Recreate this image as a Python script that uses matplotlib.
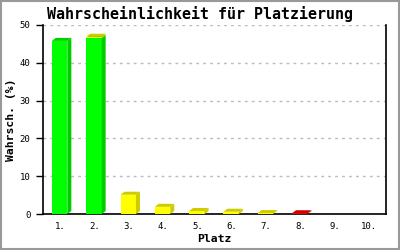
import matplotlib
matplotlib.use("Agg")
import matplotlib.pyplot as plt
from matplotlib.patches import Polygon, Rectangle

# Platzierungen und Wahrscheinlichkeiten (%) je Farbe (gestapelt)
places = ["1.", "2.", "3.", "4.", "5.", "6.", "7.", "8.", "9.", "10."]
green = [45.8, 46.5, 0, 0, 0, 0, 0, 0, 0, 0]
yellow = [0, 0.4, 5.1, 1.9, 0.8, 0.6, 0.25, 0, 0, 0]
red = [0, 0, 0, 0, 0, 0, 0, 0.2, 0, 0]

series = [
    (green, "#00ff00", "#00cc00"),
    (yellow, "#ffff00", "#cccc00"),
    (red, "#ff0000", "#cc0000"),
]

mono = "DejaVu Sans Mono"

fig = plt.figure(figsize=(4, 2.5), dpi=100)
ax = fig.add_axes([0.1075, 0.144, 0.8575, 0.756])

x = list(range(1, len(places) + 1))
ax.set_xlim(0.5, len(places) + 0.5)
ax.set_ylim(0, 50)

# 3D-Tiefe in Datenkoordinaten (4px nach rechts, 3px nach oben)
ax_w = 0.8575 * 400
ax_h = 0.756 * 250
dx = 4 * len(places) / ax_w
dy = 3 * 50 / ax_h

width = 0.45
bottoms = [0.0] * len(places)
for values, front, dark in series:
    for i, h in enumerate(values):
        if h <= 0:
            continue
        b = bottoms[i]
        x0 = x[i] - 0.015 - width / 2
        x1 = x0 + width
        ax.bar(x0, h, width=width, bottom=b, align="edge", color=front,
               linewidth=0, zorder=3)
        side = [(x1, b), (x1 + dx, b + dy), (x1 + dx, b + h + dy), (x1, b + h)]
        top = [(x0, b + h), (x0 + dx, b + h + dy), (x1 + dx, b + h + dy), (x1, b + h)]
        ax.add_patch(Polygon(side, closed=True, color=dark, lw=0, zorder=3))
        ax.add_patch(Polygon(top, closed=True, color=dark, lw=0, zorder=3))
        bottoms[i] = b + h

ax.set_xticks(x)
ax.set_xticklabels(places)
ax.set_yticks([0, 10, 20, 30, 40, 50])
ax.tick_params(axis="x", length=0, pad=6, labelsize=6.5)
ax.tick_params(axis="y", length=5, width=1, pad=4, labelsize=6.5)
for lab in ax.get_xticklabels() + ax.get_yticklabels():
    lab.set_family(mono)

ax.yaxis.grid(True, linestyle=(0, (2, 3)), color="#bbbbbb", linewidth=1)
ax.set_axisbelow(True)
ax.spines["top"].set_visible(False)
for s in ["left", "bottom", "right"]:
    ax.spines[s].set_linewidth(1.2)

fig.text(0.5, 0.944, "Wahrscheinlichkeit für Platzierung", ha="center",
         va="center", family=mono, fontweight="bold", fontsize=10.8)
fig.text(0.027, 0.52, "Wahrsch. (%)", ha="center", va="center", rotation=90,
         family=mono, fontweight="bold", fontsize=8.2)
fig.text(0.536, 0.044, "Platz", ha="center", va="center",
         family=mono, fontweight="bold", fontsize=8.2)

fig.patches.append(Rectangle((0.002, 0.003), 0.996, 0.994, transform=fig.transFigure,
                             fill=False, edgecolor="#999999", linewidth=1.5))

fig.savefig("out.png", dpi=100)
